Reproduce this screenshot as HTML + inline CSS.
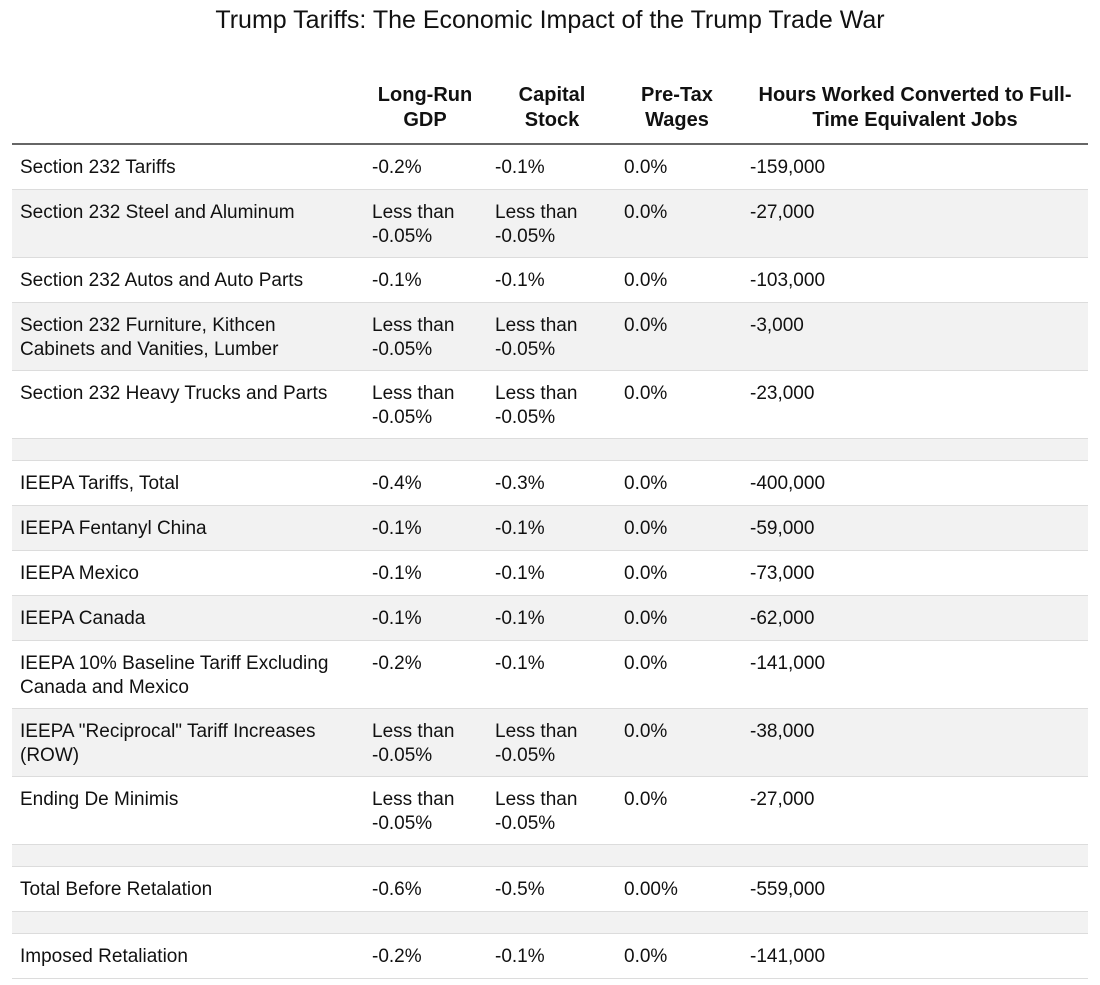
<!DOCTYPE html>
<html><head><meta charset="utf-8"><style>
body{margin:0;width:1100px;height:985px;background:#fff;font-family:"Liberation Sans",sans-serif;color:#111;position:relative;overflow:hidden}
.t{position:absolute;left:0;width:1100px;top:6px;text-align:center;font-size:25px}
.h{position:absolute;font-size:20px;font-weight:bold;text-align:center;line-height:25px;color:#111}
.hl{position:absolute;left:12px;width:1076px;top:143px;height:2px;background:#666}
.r{position:absolute;left:12px;width:1076px;border-bottom:1px solid #dcdcdc;box-sizing:border-box}
.c{position:absolute;top:11px;font-size:19px;line-height:24px}
</style></head><body>
<div class="t">Trump Tariffs: The Economic Impact of the Trump Trade War</div>
<div class="h" style="left:360px;width:130px;top:83px">Long-Run<br>GDP</div>
<div class="h" style="left:487px;width:130px;top:83px">Capital<br>Stock</div>
<div class="h" style="left:612px;width:130px;top:83px">Pre-Tax<br>Wages</div>
<div class="h" style="left:745px;width:340px;top:83px">Hours Worked Converted to Full-<br>Time Equivalent Jobs</div>
<div class="hl"></div>
<div id="tb"></div>
<script>
const L="Less than<br>-0.05%";
const labels=["Section 232 Tariffs","Section 232 Steel and Aluminum","Section 232 Autos and Auto Parts","Section 232 Furniture, Kithcen<br>Cabinets and Vanities, Lumber","Section 232 Heavy Trucks and Parts",null,"IEEPA Tariffs, Total","IEEPA Fentanyl China","IEEPA Mexico","IEEPA Canada","IEEPA 10% Baseline Tariff Excluding<br>Canada and Mexico","IEEPA \"Reciprocal\" Tariff Increases<br>(ROW)","Ending De Minimis",null,"Total Before Retalation",null,"Imposed Retaliation"];
const gdp=["-0.2%",L,"-0.1%",L,L,null,"-0.4%","-0.1%","-0.1%","-0.1%","-0.2%",L,L,null,"-0.6%",null,"-0.2%"];
const cap=["-0.1%",L,"-0.1%",L,L,null,"-0.3%","-0.1%","-0.1%","-0.1%","-0.1%",L,L,null,"-0.5%",null,"-0.1%"];
const wages=["0.0%","0.0%","0.0%","0.0%","0.0%",null,"0.0%","0.0%","0.0%","0.0%","0.0%","0.0%","0.0%",null,"0.00%",null,"0.0%"];
const jobs=["-159,000","-27,000","-103,000","-3,000","-23,000",null,"-400,000","-59,000","-73,000","-62,000","-141,000","-38,000","-27,000",null,"-559,000",null,"-141,000"];
const tb=document.getElementById('tb');
let y=145;
labels.forEach((lab,i)=>{
  const h=lab===null?22:(lab.includes('<br>')||String(gdp[i]).includes('<br>')?68:45);
  const r=document.createElement('div');
  
  
  r.className='r';r.style.top=y+'px';r.style.height=h+'px';
  r.style.background=(i%2===1)?'#f2f2f2':'#fff';
  if(lab!==null){
    [[lab,8],[gdp[i],360],[cap[i],483],[wages[i],612],[jobs[i],738]].forEach(([v,x])=>{
      const c=document.createElement('div');
      
      
      c.className='c';c.style.left=x+'px';c.innerHTML=v;r.appendChild(c);
    });
  }
  tb.appendChild(r);y+=h;
});
</script>
</body></html>
